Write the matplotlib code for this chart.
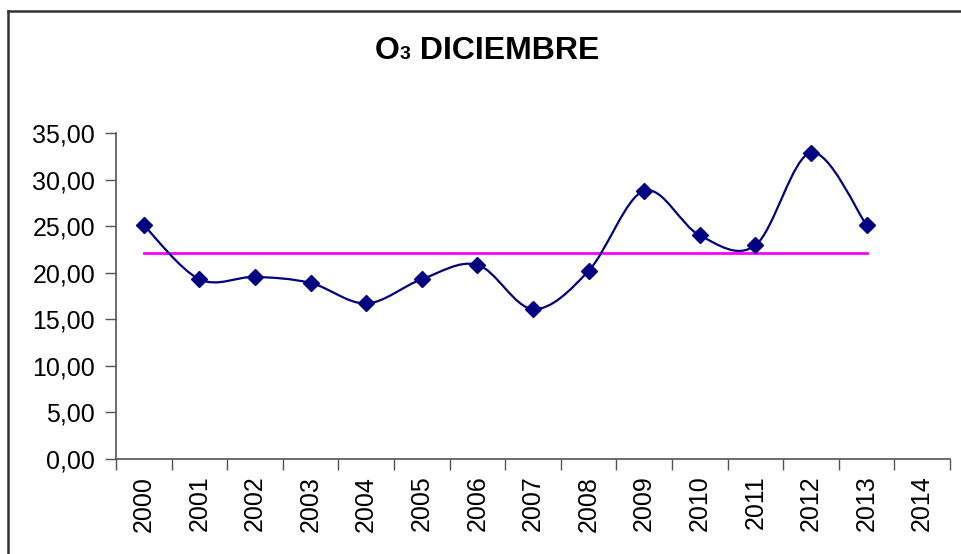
import matplotlib
matplotlib.use("Agg")
import matplotlib.pyplot as plt
from matplotlib.path import Path
from matplotlib.patches import PathPatch
from matplotlib.lines import Line2D
import numpy as np

plt.rcParams['font.family'] = ['Liberation Sans', 'DejaVu Sans']

categories = ["2000", "2001", "2002", "2003", "2004", "2005", "2006", "2007",
              "2008", "2009", "2010", "2011", "2012", "2013", "2014"]
values = [25.1, 19.3, 19.55, 18.9, 16.7, 19.3, 20.85, 16.1, 20.2, 28.8,
          24.0, 22.95, 32.9, 25.1]
mean_value = 22.13
yticks = [0, 5, 10, 15, 20, 25, 30, 35]
title_main = "O"
title_sub = "3"
title_rest = " DICIEMBRE"

W, H = 962, 554
fig = plt.figure(figsize=(W / 100, H / 100), dpi=100)
ax = fig.add_axes([116 / W, 1 - 459 / H, (950 - 116) / W, (459 - 133) / H])

x = np.arange(len(values))
y = np.array(values, dtype=float)

# smoothed line (Excel-like Catmull-Rom Bezier)
verts = [(x[0], y[0])]
codes = [Path.MOVETO]
n = len(x)
for i in range(n - 1):
    p0 = (x[i - 1], y[i - 1]) if i > 0 else (x[i], y[i])
    p1 = (x[i], y[i])
    p2 = (x[i + 1], y[i + 1])
    p3 = (x[i + 2], y[i + 2]) if i + 2 < n else (x[i + 1], y[i + 1])
    c1 = (p1[0] + (p2[0] - p0[0]) / 6, p1[1] + (p2[1] - p0[1]) / 6)
    c2 = (p2[0] - (p3[0] - p1[0]) / 6, p2[1] - (p3[1] - p1[1]) / 6)
    verts += [c1, c2, p2]
    codes += [Path.CURVE4] * 3
ax.add_patch(PathPatch(Path(verts, codes), facecolor='none', edgecolor='#000080', lw=1.6, zorder=3))
ax.plot(x, y, linestyle='none', marker='D', markersize=8.5, color='#000080', zorder=4)
ax.plot([x[0], x[-1]], [mean_value, mean_value], color='#FF00FF', lw=2, zorder=2)

ax.set_xlim(-0.5, len(categories) - 0.5)
ax.set_ylim(0, 35)
ax.set_yticks(yticks)
ax.set_yticklabels([f"{v:.2f}".replace('.', ',') for v in yticks], fontsize=18)
ax.set_xticks(np.arange(len(categories) + 1) - 0.5)
ax.set_xticklabels([])
ax.set_xticks(np.arange(len(categories)), minor=True)
ax.set_xticklabels(categories, minor=True, rotation=90, fontsize=18)
ax.tick_params(axis='x', which='minor', length=0, pad=12)
ax.tick_params(axis='x', which='major', length=8, width=1, color='#555555', direction='out')
ax.tick_params(axis='y', length=8, width=1, color='#555555', direction='out', pad=7)
for s in ['top', 'right']:
    ax.spines[s].set_visible(False)
for s in ['left', 'bottom']:
    ax.spines[s].set_color('#555555')
    ax.spines[s].set_linewidth(1.2)

# figure border (left and top visible)
fig.add_artist(Line2D([8 / W, 8 / W], [0, 1 - 11 / H], transform=fig.transFigure, color='#333333', lw=1.8))
fig.add_artist(Line2D([8 / W, 1], [1 - 11 / H, 1 - 11 / H], transform=fig.transFigure, color='#333333', lw=1.8))

# title
fig.canvas.draw()
r = fig.canvas.get_renderer()
ty = 1 - 59 / H
t1 = fig.text(0, ty, title_main, fontsize=23, fontweight='bold', va='baseline')
t2 = fig.text(0, ty, title_sub, fontsize=14, fontweight='bold', va='baseline')
t3 = fig.text(0, ty, title_rest, fontsize=23, fontweight='bold', va='baseline')
w1 = t1.get_window_extent(r).width
w2 = t2.get_window_extent(r).width
w3 = t3.get_window_extent(r).width
total = w1 + w2 + w3
x0 = 487 - total / 2
t1.set_x(x0 / W)
t2.set_x((x0 + w1) / W)
t3.set_x((x0 + w1 + w2) / W)

fig.savefig("out.png", dpi=100)
